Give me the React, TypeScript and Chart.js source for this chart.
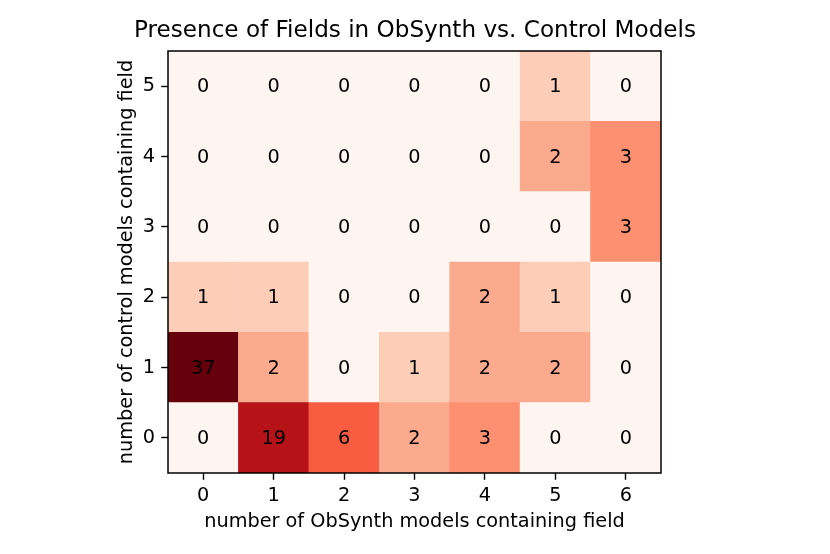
import React, { useEffect, useRef } from 'react';
import { Chart, registerables } from 'chart.js';

Chart.register(...registerables);

// x categories: number of ObSynth models containing field
const obsynthLabels = ['0', '1', '2', '3', '4', '5', '6'];
// y values: number of control models containing field
const controlValues = [0, 1, 2, 3, 4, 5];
// counts per control-model row (index = ObSynth count)
const control0 = [0, 19, 6, 2, 3, 0, 0];
const control1 = [37, 2, 0, 1, 2, 2, 0];
const control2 = [1, 1, 0, 0, 2, 1, 0];
const control3 = [0, 0, 0, 0, 0, 0, 3];
const control4 = [0, 0, 0, 0, 0, 2, 3];
const control5 = [0, 0, 0, 0, 0, 1, 0];
const rows = [control0, control1, control2, control3, control4, control5];

const titleText = 'Presence of Fields in ObSynth vs. Control Models';
const xTitle = 'number of ObSynth models containing field';
const yTitle = 'number of control models containing field';

// matplotlib "Reds" colormap stops
const redsStops = ['#fff5f0', '#fee0d2', '#fcbba1', '#fc9272', '#fb6a4a', '#ef3b2c', '#cb181d', '#a50f15', '#67000d'];

function hexToRgb(h: string) {
  return [parseInt(h.slice(1, 3), 16), parseInt(h.slice(3, 5), 16), parseInt(h.slice(5, 7), 16)];
}

function redsColor(t: number) {
  const c = Math.max(0, Math.min(1, t));
  const pos = c * (redsStops.length - 1);
  const i = Math.min(redsStops.length - 2, Math.floor(pos));
  const f = pos - i;
  const a = hexToRgb(redsStops[i]);
  const b = hexToRgb(redsStops[i + 1]);
  const m = a.map((v, k) => Math.round(v + (b[k] - v) * f));
  return `rgb(${m[0]},${m[1]},${m[2]})`;
}

const maxCount = Math.max(...rows.flat());
function cellColor(v: number) {
  return redsColor(Math.log(1 + v) / Math.log(1 + maxCount));
}

const FONT = 'DejaVu Sans';
const FS = 19.3;
const TITLE_FS = 23.1;

export default function App() {
  const ref = useRef<HTMLCanvasElement>(null);

  useEffect(() => {
    document.body.style.margin = '0';
    const canvas = ref.current!;

    const datasets = rows.map((row, r) => ({
      label: String(controlValues[r]),
      data: row.map(() => [controlValues[r] - 0.5, controlValues[r] + 0.5]),
      counts: row,
      backgroundColor: row.map((v) => cellColor(v)),
      borderWidth: 0,
      grouped: false,
      barPercentage: 1,
      categoryPercentage: 1,
    }));

    const cellText = {
      id: 'cellText',
      afterDatasetsDraw(chart: any) {
        const ctx = chart.ctx;
        ctx.save();
        ctx.fillStyle = '#000';
        ctx.font = `${FS}px "${FONT}"`;
        ctx.textAlign = 'center';
        ctx.textBaseline = 'middle';
        chart.data.datasets.forEach((ds: any, i: number) => {
          const meta = chart.getDatasetMeta(i);
          meta.data.forEach((el: any, j: number) => {
            const cy = (el.y + el.base) / 2;
            ctx.fillText(String(ds.counts[j]), el.x, cy + 1);
          });
        });
        ctx.restore();
      },
      afterDraw(chart: any) {
        const { left, right, top, bottom } = chart.chartArea;
        const ctx = chart.ctx;
        ctx.save();
        ctx.strokeStyle = '#000';
        ctx.lineWidth = 1.5;
        ctx.strokeRect(left, top, right - left, bottom - top);
        ctx.fillStyle = '#000';
        ctx.font = `${TITLE_FS}px "${FONT}"`;
        ctx.textAlign = 'center';
        ctx.textBaseline = 'middle';
        ctx.fillText(titleText, chart.width / 2, 31);
        ctx.restore();
      },
    };

    const chart = new Chart(canvas, {
      type: 'bar',
      data: { labels: obsynthLabels, datasets: datasets as any },
      options: {
        animation: false,
        responsive: false,
        devicePixelRatio: 1,
        layout: { padding: { left: 0, right: 169, top: 51, bottom: 0 } },
        plugins: {
          legend: { display: false },
          tooltip: { enabled: false },
          title: { display: false },
        },
        scales: {
          x: {
            type: 'category',
            offset: true,
            grid: { display: true, offset: false, drawOnChartArea: false, drawTicks: true, tickLength: 6.75, tickColor: '#000', tickWidth: 1.4 },
            border: { display: false },
            ticks: { color: '#000', font: { family: FONT, size: FS }, padding: 4.2, maxRotation: 0 },
            title: { display: true, text: xTitle, color: '#000', font: { family: FONT, size: FS }, padding: { top: 0, bottom: 20.7 } },
            afterFit: (s: any) => { s.height = 81; },
          },
          y: {
            type: 'linear',
            min: -0.5,
            max: 5.5,
            afterBuildTicks: (s: any) => { s.ticks = controlValues.map((v) => ({ value: v })); },
            grid: { display: true, drawOnChartArea: false, drawTicks: true, tickLength: 6.75, tickColor: '#000', tickWidth: 1.4 },
            border: { display: false },
            ticks: { color: '#000', font: { family: FONT, size: FS }, padding: 6.25 },
            title: { display: true, text: yTitle, color: '#000', font: { family: FONT, size: FS }, padding: { top: 115.4, bottom: 0 } },
            afterFit: (s: any) => { s.width = 168; },
          },
        },
      },
      plugins: [cellText],
    });

    return () => chart.destroy();
  }, []);

  return (
    <div style={{ position: 'absolute', left: 0, top: 0, width: 830, height: 554, background: '#fff' }}>
      <canvas ref={ref} width={830} height={554} />
    </div>
  );
}
